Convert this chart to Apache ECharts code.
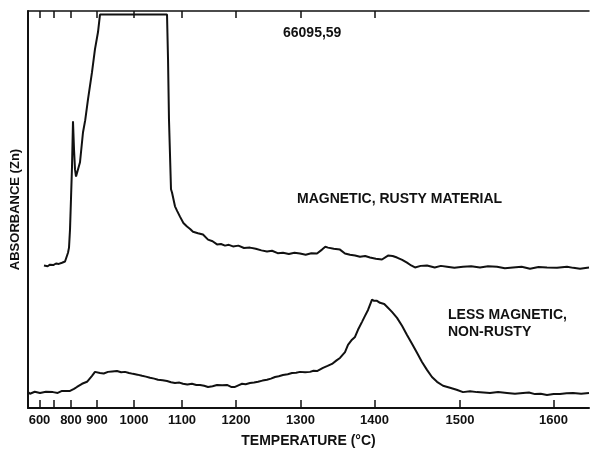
<!DOCTYPE html>
<html>
<head>
<meta charset="utf-8">
<script src="https://cdn.jsdelivr.net/npm/echarts@6/dist/echarts.min.js"></script>
<style>
html,body{margin:0;padding:0;background:#fff;}
#chart{width:592px;height:449px;}
</style>
</head>
<body>
<div id="chart"></div>
<script>
// Temperature tick calibration: time (axis units, 0-100) at which each temperature is reached
const tickTemps = [600, 700, 800, 900, 1000, 1100, 1200, 1300, 1400, 1500, 1600];
const tickTimes = [2.05, 4.63, 7.66, 12.30, 18.89, 27.45, 37.08, 48.57, 61.76, 77.0, 93.67];
const labeledTemps = [600, 800, 900, 1000, 1100, 1200, 1300, 1400, 1500, 1600];

// Magnetic, rusty material: [time, absorbance]
const rustyTime = [2.85,3.5,3.92,4.5,4.99,5.5,6.06,6.6,7.13,7.31,7.49,7.66,7.84,8.02,8.20,8.38,8.56,8.91,9.27,9.80,10.2,10.70,11.41,11.94,12.48,12.83,18.0,24.78,24.96,25.13,25.49,25.67,26.20,26.6,27.09,27.7,28.34,28.9,29.41,30.3,31.19,32.09,32.9,33.69,34.4,35.12,35.8,36.54,37.5,38.5,39.57,40.6,41.6,42.60,43.5,44.5,45.45,46.5,47.5,48.48,49.5,50.5,51.52,52.41,53.0,53.48,54.5,55.61,56.5,57.40,58.3,59.18,60.1,60.96,62.0,63.10,64.17,65.0,65.78,66.7,67.56,68.3,68.98,70.0,71.12,72.5,73.6,74.69,76.0,77.54,79.0,80.57,82.0,83.60,85.0,86.45,88.0,89.48,91.0,92.51,94.3,96.08,97.2,98.40,100];
const rustyAbs  = [35.9,35.7,36.1,36.0,36.4,36.3,36.6,36.9,39.1,40.4,45.0,52.5,60.6,72.2,65.2,60.1,58.3,58.8,61.9,69.4,72.5,77.8,84.6,90.4,94.7,99.1,99.1,99.1,87.9,72.7,55.1,54.3,50.8,49.6,48.2,46.6,45.7,45.1,44.4,44.0,43.7,42.4,42.0,41.2,41.3,40.9,41.1,40.7,40.9,40.3,40.4,40.1,39.7,39.4,39.6,39.0,39.1,38.8,39.1,38.9,38.6,39.0,38.9,39.9,40.6,40.4,40.1,39.9,38.9,38.6,38.4,38.1,38.3,37.9,37.6,37.4,38.4,38.3,37.9,37.3,36.6,35.9,35.4,35.8,35.9,35.4,35.8,35.6,35.3,35.6,35.7,35.4,35.7,35.6,35.2,35.4,35.6,35.1,35.5,35.4,35.3,35.6,35.3,35.1,35.4];

// Less magnetic, non-rusty: [time, absorbance]
const nonRustyTime = [0,0.36,1.2,2.14,3.2,4.46,5.3,6.06,7.49,8.20,8.73,9.63,10.52,11.41,11.94,12.83,13.5,14.26,15.0,15.86,16.6,17.29,18.0,18.72,19.5,20.32,21.0,21.75,22.5,23.17,24.0,24.78,25.5,26.20,27.0,27.63,28.4,29.23,30.0,30.66,31.4,32.09,32.9,33.69,34.6,35.47,36.2,36.90,37.5,38.15,38.8,39.57,40.3,41.00,41.8,42.60,43.3,44.03,44.7,45.45,46.3,47.06,47.8,48.48,49.4,50.27,50.9,51.52,52.58,53.4,54.19,55.0,55.61,56.51,57.04,57.75,58.29,58.82,59.54,60.07,60.61,61.32,61.68,61.95,62.21,62.5,62.75,63.10,63.5,63.99,64.88,65.78,66.67,67.56,68.45,69.34,70.23,71.12,72.01,72.91,73.98,75.22,76.4,77.54,78.8,80.04,81.2,82.35,83.8,85.38,86.8,88.24,89.3,90.37,91.4,92.51,93.7,94.83,96.0,97.15,98.6,100];
const nonRustyAbs  = [4.0,3.6,4.1,3.8,4.1,4.0,3.8,4.3,4.3,4.8,5.3,6.1,6.6,8.1,9.1,8.8,8.7,9.1,9.2,9.3,9.0,9.1,8.8,8.6,8.4,8.1,7.9,7.6,7.4,7.1,7.0,6.8,6.5,6.3,6.4,6.1,5.9,6.1,5.8,5.8,5.6,5.3,5.5,5.8,5.7,5.8,5.3,5.3,5.7,6.1,6.0,6.3,6.4,6.6,6.9,7.1,7.4,7.8,8.0,8.3,8.5,8.8,8.9,9.1,9.0,9.1,9.4,9.3,10.1,10.6,11.1,12.0,12.6,14.1,15.9,17.2,17.9,19.7,21.7,23.2,24.7,27.3,27.0,27.3,27.0,27.2,26.5,26.8,26.2,25.5,24.2,22.7,20.7,18.4,16.2,13.9,11.6,9.6,7.8,6.6,5.6,5.1,4.6,4.0,4.2,4.0,3.9,3.8,4.0,3.8,3.6,3.8,3.9,3.5,3.6,3.3,3.5,3.5,3.7,3.8,3.6,3.8];

const FONT = '"Liberation Sans", Arial, sans-serif';
const zip = (a, b) => a.map((v, i) => [v, b[i]]);
const tempOf = t => { const i = tickTimes.indexOf(t); return i >= 0 ? String(tickTemps[i]) : ''; };
const labelTimes = labeledTemps.map(T => tickTimes[tickTemps.indexOf(T)]);

const chart = echarts.init(document.getElementById('chart'), null, {renderer: 'canvas'});
chart.setOption({
  backgroundColor: '#ffffff',
  animation: false,
  grid: {left: 28, right: 3, top: 11, bottom: 41, containLabel: false, outerBoundsMode: 'none'},
  xAxis: [{
    type: 'value', min: 0, max: 100, position: 'bottom',
    name: 'TEMPERATURE (°C)', nameLocation: 'middle', nameGap: 26,
    nameTextStyle: {fontFamily: FONT, fontWeight: 'bold', fontSize: 14, color: '#111'},
    axisLine: {show: true, lineStyle: {color: '#111', width: 2}},
    axisTick: {show: true, inside: true, length: 8, customValues: tickTimes, lineStyle: {color: '#111', width: 1.5}},
    axisLabel: {show: true, customValues: labelTimes, formatter: v => tempOf(v), margin: 6,
      fontFamily: FONT, fontWeight: 'bold', fontSize: 13, color: '#111'},
    splitLine: {show: false}
  }, {
    type: 'value', min: 0, max: 100, position: 'top',
    axisLine: {show: true, lineStyle: {color: '#111', width: 1.5}},
    axisTick: {show: true, inside: true, length: 7, customValues: tickTimes.slice(0, 9), lineStyle: {color: '#111', width: 1.5}},
    axisLabel: {show: false},
    splitLine: {show: false}
  }],
  yAxis: {
    type: 'value', min: 0, max: 100,
    name: 'ABSORBANCE (Zn)', nameLocation: 'middle', nameGap: 6,
    nameTextStyle: {fontFamily: FONT, fontWeight: 'bold', fontSize: 13, color: '#111'},
    axisLine: {show: true, lineStyle: {color: '#111', width: 2}},
    axisTick: {show: false}, axisLabel: {show: false}, splitLine: {show: false}
  },
  series: [{
    type: 'line', name: 'MAGNETIC, RUSTY MATERIAL', data: zip(rustyTime, rustyAbs),
    symbol: 'none', smooth: false, lineStyle: {color: '#111', width: 2}
  }, {
    type: 'line', name: 'LESS MAGNETIC, NON-RUSTY', data: zip(nonRustyTime, nonRustyAbs),
    symbol: 'none', smooth: false, lineStyle: {color: '#111', width: 2}
  }],
  graphic: [
    {type: 'text', left: 283, top: 26, style: {text: '66095,59', font: 'bold 14px ' + FONT, fill: '#111'}},
    {type: 'text', left: 297, top: 192, style: {text: 'MAGNETIC, RUSTY MATERIAL', font: 'bold 14px ' + FONT, fill: '#111'}},
    {type: 'text', left: 448, top: 307, style: {text: 'LESS MAGNETIC,\nNON-RUSTY', font: 'bold 14px ' + FONT, fill: '#111', lineHeight: 17}}
  ]
});
</script>
</body>
</html>
